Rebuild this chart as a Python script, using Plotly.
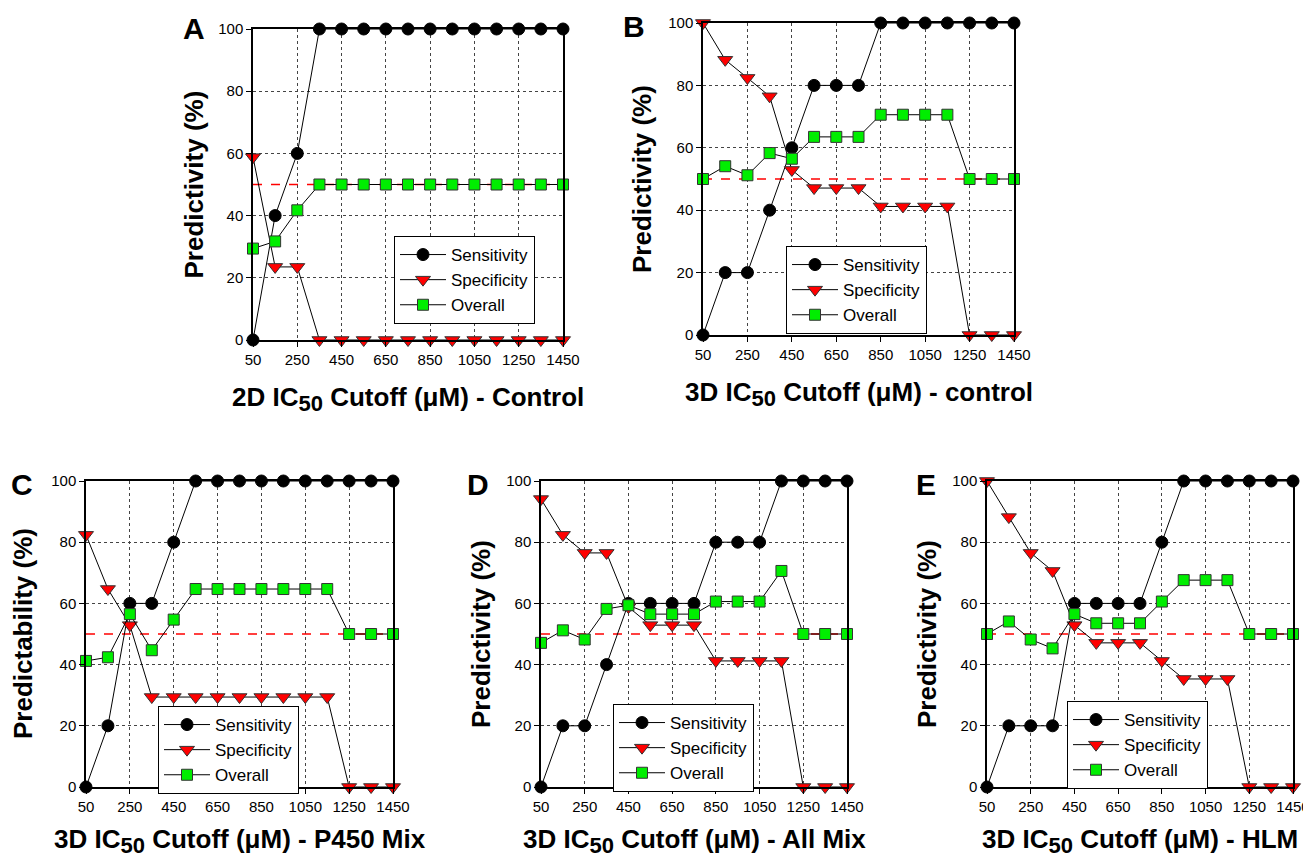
import plotly.graph_objects as go

cutoffs = [50, 150, 250, 350, 450, 550, 650, 750, 850, 950, 1050, 1150, 1250, 1350, 1450]
tick_vals = [50, 250, 450, 650, 850, 1050, 1250, 1450]
y_ticks = [0, 20, 40, 60, 80, 100]
ref_level = 50

# Panel A - 2D control
a_sens = [0, 40, 60, 100, 100, 100, 100, 100, 100, 100, 100, 100, 100, 100, 100]
a_spec = [58.8, 23.5, 23.5, 0, 0, 0, 0, 0, 0, 0, 0, 0, 0, 0, 0]
a_over = [29.4, 31.7, 41.7, 50, 50, 50, 50, 50, 50, 50, 50, 50, 50, 50, 50]
# Panel B - 3D control
b_sens = [0, 20, 20, 40, 60, 80, 80, 80, 100, 100, 100, 100, 100, 100, 100]
b_spec = [100, 88.2, 82.4, 76.5, 52.9, 47.1, 47.1, 47.1, 41.2, 41.2, 41.2, 41.2, 0, 0, 0]
b_over = [50, 54.1, 51.2, 58.3, 56.5, 63.5, 63.5, 63.5, 70.6, 70.6, 70.6, 70.6, 50, 50, 50]
# Panel C - P450 Mix
c_sens = [0, 20, 60, 60, 80, 100, 100, 100, 100, 100, 100, 100, 100, 100, 100]
c_spec = [82.4, 64.7, 52.9, 29.4, 29.4, 29.4, 29.4, 29.4, 29.4, 29.4, 29.4, 29.4, 0, 0, 0]
c_over = [41.2, 42.4, 56.5, 44.7, 54.7, 64.7, 64.7, 64.7, 64.7, 64.7, 64.7, 64.7, 50, 50, 50]
# Panel D - All Mix
d_sens = [0, 20, 20, 40, 60, 60, 60, 60, 80, 80, 80, 100, 100, 100, 100]
d_spec = [94.1, 82.4, 76.5, 76.5, 58.8, 52.9, 52.9, 52.9, 41.2, 41.2, 41.2, 41.2, 0, 0, 0]
d_over = [47.1, 51.2, 48.2, 58.2, 59.4, 56.5, 56.5, 56.5, 60.6, 60.6, 60.6, 70.6, 50, 50, 50]
# Panel E - HLM
e_sens = [0, 20, 20, 20, 60, 60, 60, 60, 80, 100, 100, 100, 100, 100, 100]
e_spec = [100, 88.2, 76.5, 70.6, 52.9, 47.1, 47.1, 47.1, 41.2, 35.3, 35.3, 35.3, 0, 0, 0]
e_over = [50, 54.1, 48.2, 45.3, 56.5, 53.5, 53.5, 53.5, 60.6, 67.6, 67.6, 67.6, 50, 50, 50]

SUB = "<sub><span style='font-size:22px'>50</span></sub>"
panels = [
    ("A", a_sens, a_spec, a_over, f"2D IC{SUB} Cutoff (μM) - Control", "Predictivity (%)"),
    ("B", b_sens, b_spec, b_over, f"3D IC{SUB} Cutoff (μM) - control", "Predictivity (%)"),
    ("C", c_sens, c_spec, c_over, f"3D IC{SUB} Cutoff (μM) - P450 Mix", "Predictability (%)"),
    ("D", d_sens, d_spec, d_over, f"3D IC{SUB} Cutoff (μM) - All Mix", "Predictivity (%)"),
    ("E", e_sens, e_spec, e_over, f"3D IC{SUB} Cutoff (μM) - HLM", "Predictivity (%)"),
]

OFF = 8  # page body margin
W, H = 1311 - OFF, 858 - OFF


def px_x(p):
    return (p - OFF) / W


def px_y(p):
    return 1 - (p - OFF) / H


# plot-area pixel boxes in screenshot coordinates (left, right, top, bottom)
boxes = [(253, 563, 29, 340), (703, 1014, 23, 335),
         (86, 393, 481, 787), (541, 847, 481, 787), (987, 1293, 481, 787)]
legend_pos = [(394, 236), (786, 246), (158, 706), (613, 704), (1067, 701)]
letter_pos = [(194, 29), (634, 27), (22, 484), (478, 484), (926, 484)]
ytitle_x = [193, 642, 23, 481, 927]
xtitle_gap = [59, 59, 54, 54, 54]

FONT = "Liberation Sans, Arial, sans-serif"
fig = go.Figure()
layout = dict(width=W, height=H, margin=dict(l=0, r=0, t=0, b=0),
              paper_bgcolor="white", plot_bgcolor="white", showlegend=True,
              font=dict(family=FONT, color="black", size=15))
annotations = []

for i, (letter, sens, spec, over, xt, yt) in enumerate(panels):
    n = i + 1
    xa = "x" if n == 1 else f"x{n}"
    ya = "y" if n == 1 else f"y{n}"
    lg = "legend" if n == 1 else f"legend{n}"
    l, r, t, b = boxes[i]
    fig.add_trace(go.Scatter(x=[cutoffs[0], cutoffs[-1]], y=[ref_level, ref_level], mode="lines",
                             line=dict(color="red", width=1.5, dash="dash"),
                             xaxis=xa, yaxis=ya, showlegend=False, hoverinfo="skip"))
    fig.add_trace(go.Scatter(x=cutoffs, y=sens, mode="lines+markers", name="Sensitivity",
                             line=dict(color="black", width=1),
                             marker=dict(symbol="circle", size=12, color="black",
                                         line=dict(color="black", width=1)),
                             xaxis=xa, yaxis=ya, legend=lg, cliponaxis=False))
    fig.add_trace(go.Scatter(x=cutoffs, y=spec, mode="lines+markers", name="Specificity",
                             line=dict(color="black", width=1),
                             marker=dict(symbol="triangle-down", size=13, color="red",
                                         line=dict(color="#333333", width=1)),
                             xaxis=xa, yaxis=ya, legend=lg, cliponaxis=False))
    fig.add_trace(go.Scatter(x=cutoffs, y=over, mode="lines+markers", name="Overall",
                             line=dict(color="black", width=1),
                             marker=dict(symbol="square", size=11, color="#00ee00",
                                         line=dict(color="#333333", width=1)),
                             xaxis=xa, yaxis=ya, legend=lg, cliponaxis=False))
    xkey = "xaxis" if n == 1 else f"xaxis{n}"
    ykey = "yaxis" if n == 1 else f"yaxis{n}"
    common = dict(ticks="outside", ticklen=5, tickcolor="black", automargin=False,
                  showline=True, linecolor="black", linewidth=1.5, mirror=True,
                  showgrid=True, gridcolor="#444444", griddash="dot", gridwidth=1,
                  zeroline=False, tickfont=dict(size=15, family=FONT, color="black"))
    layout[xkey] = dict(domain=[px_x(l), px_x(r)], anchor=ya, range=[50, 1450],
                        tickvals=tick_vals, **common)
    layout[ykey] = dict(domain=[px_y(b), px_y(t)], anchor=xa, range=[0, 100],
                        tickvals=y_ticks, **common)
    lx, ly = legend_pos[i]
    layout[lg] = dict(x=px_x(lx), y=px_y(ly), xanchor="left", yanchor="top",
                      bgcolor="white", bordercolor="black", borderwidth=1,
                      font=dict(size=17, family=FONT), tracegroupgap=0, itemwidth=46)
    px, py = letter_pos[i]
    annotations.append(dict(text=f"<b>{letter}</b>", x=px_x(px), y=px_y(py), xref="paper", yref="paper",
                            showarrow=False, font=dict(size=30, family=FONT),
                            xanchor="center", yanchor="middle"))
    # x-axis title
    annotations.append(dict(text=f"<b>{xt}</b>", x=px_x((l + r) / 2), y=px_y(b + xtitle_gap[i]),
                            xref="paper", yref="paper", showarrow=False,
                            font=dict(size=26, family=FONT), xanchor="center", yanchor="middle"))
    # y-axis title
    annotations.append(dict(text=f"<b>{yt}</b>", x=px_x(ytitle_x[i]), y=px_y((t + b) / 2),
                            xref="paper", yref="paper", showarrow=False, textangle=-90,
                            font=dict(size=26, family=FONT), xanchor="center", yanchor="middle"))

layout["annotations"] = annotations
fig.update_layout(**layout)
fig.write_html("out.html")
